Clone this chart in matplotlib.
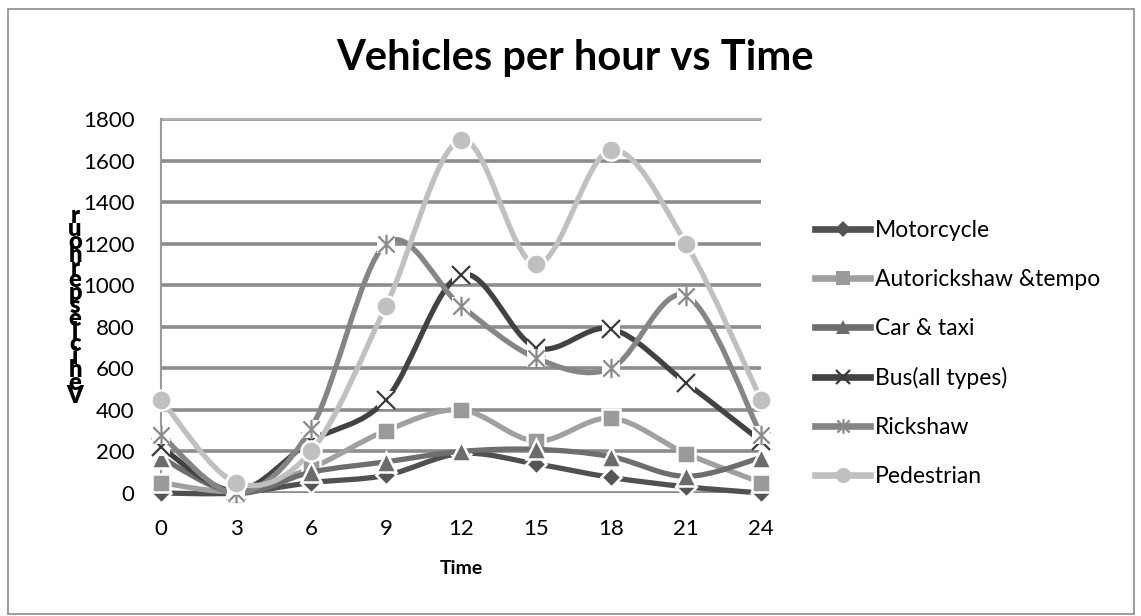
import matplotlib
matplotlib.use("Agg")
import matplotlib.pyplot as plt
from matplotlib.path import Path
from matplotlib.patches import PathPatch, Rectangle
from matplotlib.lines import Line2D

plt.rcParams['font.family'] = ['Lato', 'DejaVu Sans']

# ---------------- data ----------------
hours = [0, 3, 6, 9, 12, 15, 18, 21, 24]
series_names = ["Motorcycle", "Autorickshaw &tempo", "Car & taxi",
                "Bus(all types)", "Rickshaw", "Pedestrian"]
motorcycle = [0, 0, 50, 85, 190, 140, 75, 30, 0]
autorickshaw = [50, 10, 120, 300, 400, 250, 360, 190, 50]
car_taxi = [170, 0, 100, 150, 200, 210, 175, 80, 170]
bus = [220, 10, 250, 450, 1050, 700, 790, 530, 250]
rickshaw = [280, 0, 310, 1200, 900, 650, 600, 950, 280]
pedestrian = [450, 50, 200, 900, 1700, 1100, 1650, 1200, 450]
y_ticks = [0, 200, 400, 600, 800, 1000, 1200, 1400, 1600, 1800]
title = "Vehicles per hour vs Time"
x_title = "Time"
y_title = "Vehicles per hour"

values = [motorcycle, autorickshaw, car_taxi, bus, rickshaw, pedestrian]

# ---------------- styles ----------------
line_colors = ['#505050', '#a0a0a0', '#6e6e6e', '#424242', '#858585', '#c0c0c0']
marker_colors = ['#555555', '#9a9a9a', '#6b6b6b', '#3a3a3a', '#8a8a8a', '#c0c0c0']
asterisk = Path([(-1, -1), (1, 1), (-1, 1), (1, -1), (0, -1.2), (0, 1.2)],
                [Path.MOVETO, Path.LINETO, Path.MOVETO, Path.LINETO, Path.MOVETO, Path.LINETO])
markers = ['D', 's', '^', 'x', asterisk, 'o']
msizes = [10.5, 13.5, 14, 13, 14, 14.5]
filled = [True, True, True, False, False, True]

W, H = 1141, 616
fig = plt.figure(figsize=(W / 100, H / 100), dpi=100)
ax = fig.add_axes([161 / W, 1 - 493 / H, 600 / W, 374 / H])
ax.set_xlim(0, 24)
ax.set_ylim(0, 1800)


def smooth_path(xs, ys):
    pts = list(zip(xs, ys))
    n = len(pts)
    verts = [pts[0]]
    codes = [Path.MOVETO]
    for i in range(n - 1):
        p0 = pts[i - 1] if i > 0 else pts[i]
        p1 = pts[i]
        p2 = pts[i + 1]
        p3 = pts[i + 2] if i + 2 < n else pts[i + 1]
        c1 = (p1[0] + (p2[0] - p0[0]) / 6, p1[1] + (p2[1] - p0[1]) / 6)
        c2 = (p2[0] - (p3[0] - p1[0]) / 6, p2[1] - (p3[1] - p1[1]) / 6)
        verts += [c1, c2, p2]
        codes += [Path.CURVE4] * 3
    return Path(verts, codes)


for i, (name, vals) in enumerate(zip(series_names, values)):
    z = 3 + i
    patch = PathPatch(smooth_path(hours, vals), fill=False, edgecolor=line_colors[i],
                      lw=3.8, capstyle='round', joinstyle='round', zorder=z, clip_on=False)
    ax.add_patch(patch)
    if filled[i]:
        ax.plot(hours, vals, linestyle='none', marker=markers[i], ms=msizes[i],
                mfc=marker_colors[i], mec='white', mew=1.8, zorder=z + 0.5, clip_on=False)
    else:
        ax.plot(hours, vals, linestyle='none', marker='s', ms=13.5, mfc='white',
                mec='white', mew=0, zorder=z + 0.4, clip_on=False)
        ax.plot(hours, vals, linestyle='none', marker=markers[i], ms=msizes[i],
                mfc='none', mec=marker_colors[i], mew=1.6, zorder=z + 0.5, clip_on=False)

# axes styling
ax.set_yticks(y_ticks)
ax.set_xticks(hours)
ax.set_xticklabels([str(h) for h in hours])
ax.tick_params(axis='both', length=0, labelsize=16, colors='black')
ax.tick_params(axis='y', pad=19)
ax.tick_params(axis='x', pad=19)
ax.yaxis.grid(True, color='#8c8c8c', lw=2.6)
ax.set_axisbelow(True)
for s in ['right', 'bottom', 'top']:
    ax.spines[s].set_visible(False)
ax.spines['left'].set_color('#9a9a9a')
ax.spines['left'].set_linewidth(1.5)
ax.axhline(1800, color='#b4b4b4', lw=1.5, zorder=1, clip_on=False)

# titles
fig.text(575 / W, 1 - 70 / H, title, ha='center', va='baseline',
         fontsize=30, fontweight='bold')
fig.text(461 / W, 1 - 568 / H, x_title, ha='center', va='center',
         fontsize=14, fontweight='bold')

# stacked, reversed y-axis title (single text, one letter per line)
chars = [c for c in reversed(y_title) if c != ' ']
fig.text(75 / W, 1 - 306 / H, "\n".join(chars), ha='center', va='center',
         ma='center', fontsize=17, fontweight='heavy', linespacing=0.49)

# legend
handles = []
for i in range(len(series_names)):
    if filled[i]:
        h = Line2D([], [], color=line_colors[i], lw=4.8, marker=markers[i], ms=msizes[i],
                   mfc=marker_colors[i], mec=marker_colors[i], mew=0)
    else:
        h = Line2D([], [], color=line_colors[i], lw=4.8, marker=markers[i], ms=msizes[i],
                   mfc='none', mec=marker_colors[i], mew=1.6)
    handles.append(h)
fig.legend(handles, series_names, loc='center left',
           bbox_to_anchor=(815 / W, 1 - 353.5 / H), frameon=False, fontsize=16.5,
           handlelength=2.4, handletextpad=0.2, labelspacing=1.22, borderpad=0,
           borderaxespad=0, numpoints=1, markerscale=0.75)

# outer chart border
fig.patches.append(Rectangle((8 / W, 2 / H), 1126 / W, 605 / H, transform=fig.transFigure,
                             fill=False, edgecolor='#8c8c8c', lw=1.2))

fig.savefig("out.png", dpi=100, facecolor='white')
